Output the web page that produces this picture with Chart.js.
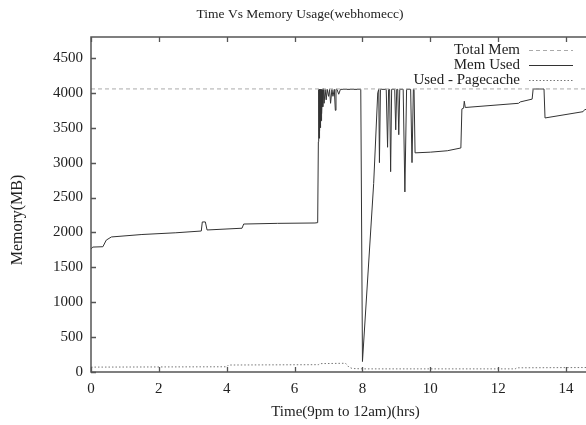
<!DOCTYPE html>
<html>
<head>
<meta charset="utf-8">
<script src="https://cdn.jsdelivr.net/npm/chart.js@4"></script>
<style>
html,body{margin:0;padding:0;background:#fff;overflow:hidden;}
#wrap{width:600px;height:425px;}
</style>
</head>
<body>
<div id="wrap"><canvas id="c" width="600" height="425"></canvas></div>
<script>
// ---- data ----
const titleText = "Time Vs Memory Usage(webhomecc)";
const xTitle = "Time(9pm to 12am)(hrs)";
const yTitle = "Memory(MB)";
const seriesNames = ["Total Mem", "Mem Used", "Used - Pagecache"];

const totalTimes = [0, 15];
const totalMem = [4056, 4056];

const usedTimes = [0, 0.05, 0.35, 0.45, 0.6, 1.5, 2.5, 3.25, 3.28, 3.37, 3.42, 4.45, 4.5, 5.5, 6.6, 6.68,
  6.70, 6.71, 6.72, 6.73, 6.74, 6.75, 6.76, 6.77, 6.78, 6.79, 6.80, 6.82, 6.83, 6.85, 6.87, 6.9, 6.93, 6.96, 7.0, 7.03, 7.06, 7.1, 7.13, 7.17, 7.2, 7.22, 7.25, 7.3, 7.35, 7.4, 7.95,
  8.0, 8.33, 8.45, 8.48, 8.5, 8.53, 8.7, 8.74, 8.77, 8.8, 8.83, 8.86, 8.95, 8.98, 9.01, 9.04, 9.07, 9.1, 9.2, 9.25, 9.3, 9.42, 9.46, 9.5, 9.52, 9.55, 10.0, 10.5, 10.9,
  10.93, 10.98, 11.0, 11.03, 12.6, 12.65, 13.0, 13.03, 13.35, 13.38, 14.5, 14.55, 15.0];
const usedMem = [1760, 1790, 1795, 1890, 1935, 1970, 1995, 2020, 2150, 2150, 2035, 2060, 2120, 2130, 2135, 2140,
  3300, 4050, 3350, 4050, 3450, 4050, 3500, 4050, 3600, 4050, 3700, 4050, 3800, 4060, 3850, 4050, 3900, 4050, 3950, 4050, 3850, 4050, 3950, 4050, 3750, 4050, 4050, 3980, 4050, 4050, 4050,
  150, 2700, 4000, 4050, 3000, 4050, 4050, 3220, 4050, 4050, 2870, 4050, 4050, 3470, 4050, 4050, 3400, 4050, 4050, 2580, 4050, 4050, 3000, 4050, 4050, 3140, 3150, 3170, 3210,
  3770, 3780, 3880, 3790, 3850, 3870, 3910, 4055, 4055, 3640, 3730, 3760, 3780];

const cacheTimes = [0, 4.0, 4.05, 6.7, 6.75, 7.5, 7.6, 7.7, 8.0, 12.5, 12.55, 15.0];
const cacheMem = [70, 75, 100, 105, 120, 125, 70, 50, 45, 45, 60, 65];

const xTicks = [0, 2, 4, 6, 8, 10, 12, 14];
const yTicks = [0, 500, 1000, 1500, 2000, 2500, 3000, 3500, 4000, 4500];

// ---- build ----
const pts = (xs, ys) => xs.map((x, i) => ({x: x, y: ys[i]}));
const FONT = "'Liberation Serif', 'DejaVu Serif', serif";

const ticksPlugin = {
  id: 'gnuTicks',
  afterDraw(chart) {
    const ctx = chart.ctx, a = chart.chartArea;
    const xs = chart.scales.x, ys = chart.scales.y;
    ctx.save();
    ctx.strokeStyle = '#555';
    ctx.lineWidth = 1.3;
    ctx.beginPath();
    xTicks.forEach(v => {
      const p = Math.round(xs.getPixelForValue(v)) + 0.5;
      ctx.moveTo(p, a.bottom); ctx.lineTo(p, a.bottom - 5);
      ctx.moveTo(p, a.top); ctx.lineTo(p, a.top + 5);
    });
    yTicks.forEach(v => {
      const p = Math.round(ys.getPixelForValue(v)) + 0.5;
      ctx.moveTo(a.left, p); ctx.lineTo(a.left + 5, p);
      ctx.moveTo(a.right, p); ctx.lineTo(a.right - 5, p);
    });
    ctx.stroke();
    ctx.lineWidth = 1.5;
    ctx.strokeRect(a.left, a.top, a.right - a.left, a.bottom - a.top);
    // y axis title
    ctx.save();
    ctx.translate(18, 220);
    ctx.rotate(-Math.PI / 2);
    ctx.font = "16px " + FONT;
    ctx.fillStyle = '#222';
    ctx.textAlign = 'center';
    ctx.textBaseline = 'middle';
    ctx.fillText(yTitle, 0, 0);
    ctx.restore();
    // legend
    ctx.font = "15px " + FONT;
    ctx.fillStyle = '#222';
    ctx.textAlign = 'right';
    ctx.textBaseline = 'middle';
    const ds = chart.data.datasets;
    [0, 1, 2].forEach((di, k) => {
      const y = a.top + 13 + k * 15;
      ctx.fillText(seriesNames[di], a.left + 429, y);
      ctx.save();
      ctx.strokeStyle = ds[di].borderColor;
      ctx.lineWidth = ds[di].borderWidth;
      ctx.setLineDash(ds[di].borderDash || []);
      ctx.beginPath();
      ctx.moveTo(a.left + 438, y + 0.5); ctx.lineTo(a.left + 482, y + 0.5);
      ctx.stroke();
      ctx.restore();
    });
    ctx.restore();
  }
};

new Chart(document.getElementById('c'), {
  type: 'line',
  data: {
    datasets: [
      {label: seriesNames[0], data: pts(totalTimes, totalMem), borderColor: '#aaaaaa', borderWidth: 1, borderDash: [4, 3], pointRadius: 0, tension: 0},
      {label: seriesNames[1], data: pts(usedTimes, usedMem), borderColor: '#333333', borderWidth: 1, pointRadius: 0, tension: 0},
      {label: seriesNames[2], data: pts(cacheTimes, cacheMem), borderColor: '#777777', borderWidth: 1, borderDash: [1.5, 2], pointRadius: 0, tension: 0}
    ]
  },
  options: {
    responsive: false,
    animation: false,
    layout: {padding: 0},
    plugins: {
      legend: {display: false},
      tooltip: {enabled: false},
      title: {display: true, text: titleText, color: '#222', font: {family: FONT, size: 13.5, weight: 'normal'}, padding: {top: 6, bottom: 14.8}}
    },
    scales: {
      x: {
        type: 'linear', min: 0, max: 15,
        afterBuildTicks: s => { s.ticks = xTicks.map(v => ({value: v})); },
        afterFit: s => { s.height = 53; },
        grid: {display: false, drawTicks: false, tickLength: 0},
        border: {display: false},
        ticks: {color: '#222', font: {family: FONT, size: 15}, padding: 8, maxRotation: 0, callback: v => String(v)},
        title: {display: true, text: xTitle, color: '#222', font: {family: FONT, size: 15}, padding: {top: 2, bottom: 4}}
      },
      y: {
        min: 0, max: 4800,
        afterBuildTicks: s => { s.ticks = yTicks.map(v => ({value: v})); },
        afterFit: s => { s.width = 91; },
        grid: {display: false, drawTicks: false, tickLength: 0},
        border: {display: false},
        ticks: {color: '#222', font: {family: FONT, size: 15}, padding: 8, callback: v => String(v)},
        title: {display: false}
      }
    }
  },
  plugins: [ticksPlugin]
});
</script>
</body>
</html>
